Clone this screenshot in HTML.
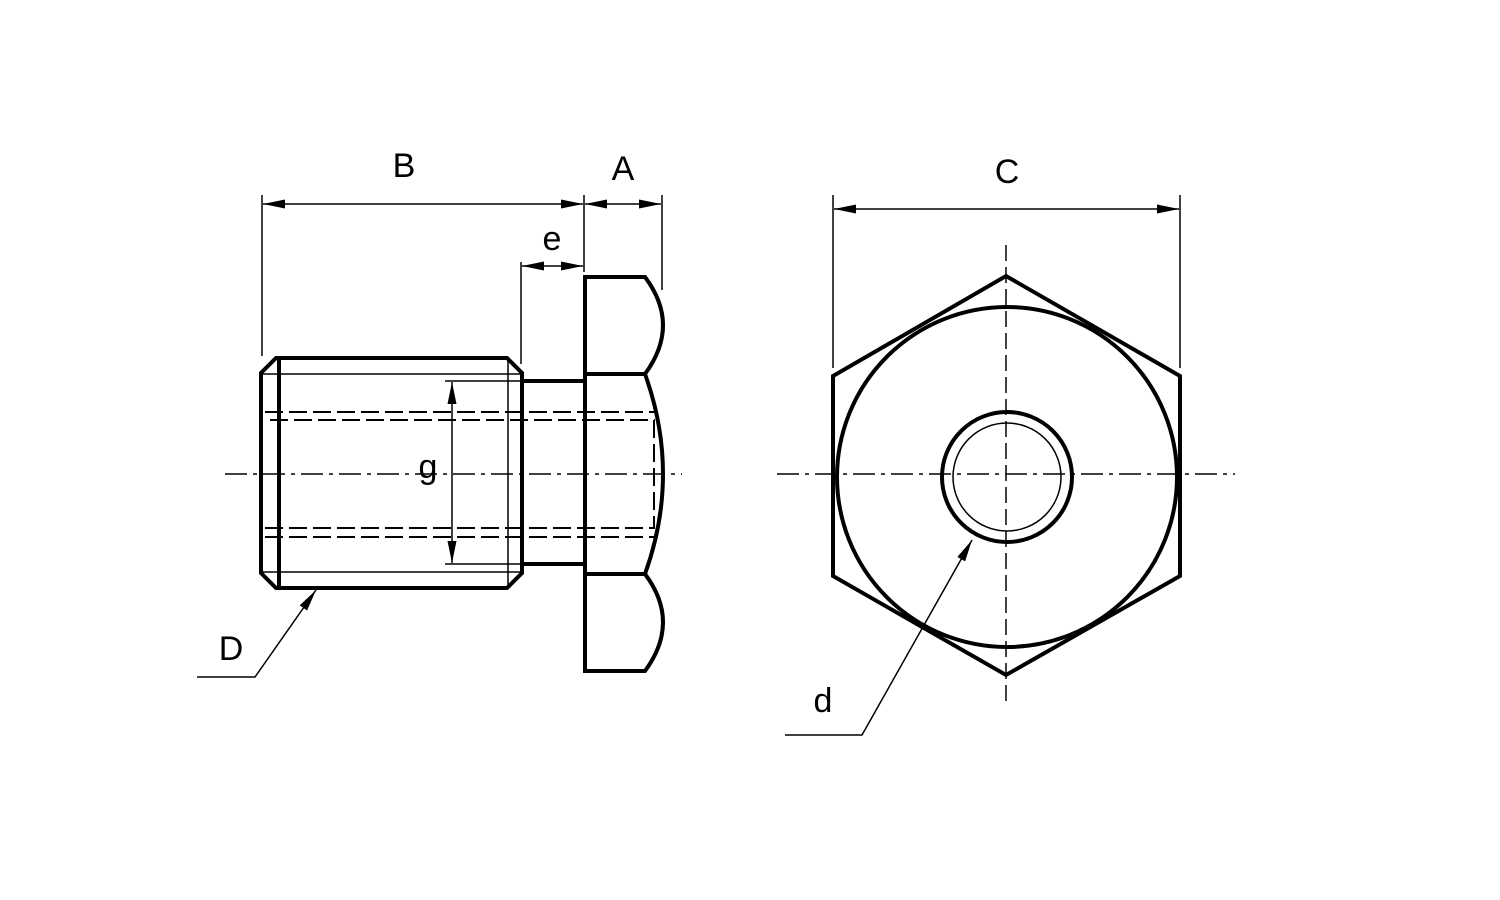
<!DOCTYPE html>
<html><head><style>body{margin:0;background:#fff}svg{display:block}</style></head><body>
<svg width="1500" height="900" viewBox="0 0 1500 900" xmlns="http://www.w3.org/2000/svg" font-family="Liberation Sans, sans-serif">
<defs>
<marker id="a" viewBox="0 0 10 10" refX="10" refY="5" markerWidth="22" markerHeight="9" orient="auto-start-reverse" markerUnits="userSpaceOnUse" preserveAspectRatio="none"><path d="M0,0L10,5L0,10z" fill="#000"/></marker>
<marker id="b" viewBox="0 0 10 10" refX="10" refY="5" markerWidth="22" markerHeight="9" orient="auto-start-reverse" markerUnits="userSpaceOnUse" preserveAspectRatio="none"><path d="M0,0L10,5L0,10z" fill="#000"/></marker>
</defs>
<g fill="none" stroke="#000">
<line x1="225" y1="474" x2="682" y2="474" stroke-width="1.5" stroke-dasharray="22,6,4,6"/>
<line x1="777" y1="474" x2="1235" y2="474" stroke-width="1.5" stroke-dasharray="22,6,4,6"/>
<line x1="1006" y1="245" x2="1006" y2="705" stroke-width="1.5" stroke-dasharray="16,6"/>
<path d="M276,358 L507,358 L522,373 L522,573 L507,588 L276,588 L261,573 L261,373 Z" stroke-width="4"/>
<line x1="279" y1="360" x2="279" y2="586" stroke-width="4"/>
<line x1="508" y1="360" x2="508" y2="586" stroke-width="1.5"/>
<line x1="263" y1="374" x2="520" y2="374" stroke-width="1.5"/>
<line x1="263" y1="572" x2="520" y2="572" stroke-width="1.5"/>
<line x1="522" y1="381" x2="585" y2="381" stroke-width="4"/>
<line x1="522" y1="564" x2="585" y2="564" stroke-width="4"/>
<path d="M585,277 L645,277 Q681,325 645,374 Q681,474 645,574 Q681,622 645,671 L585,671 Z" stroke-width="4"/>
<line x1="585" y1="374" x2="645" y2="374" stroke-width="4"/>
<line x1="585" y1="574" x2="645" y2="574" stroke-width="4"/>
<g stroke-width="2" stroke-dasharray="18,6">
<line x1="265" y1="412" x2="658" y2="412"/>
<line x1="270" y1="420" x2="655" y2="420"/>
<line x1="265" y1="528" x2="655" y2="528"/>
<line x1="265" y1="537" x2="658" y2="537"/>
<line x1="654" y1="420" x2="654" y2="528"/>
</g>
<line x1="445" y1="381" x2="522" y2="381" stroke-width="1.5"/>
<line x1="445" y1="564" x2="522" y2="564" stroke-width="1.5"/>
<line x1="452" y1="382" x2="452" y2="563" stroke-width="1.5" marker-start="url(#b)" marker-end="url(#b)"/>
<line x1="262" y1="195" x2="262" y2="356" stroke-width="1.5"/>
<line x1="584" y1="195" x2="584" y2="272" stroke-width="1.5"/>
<line x1="662" y1="195" x2="662" y2="290" stroke-width="1.5"/>
<line x1="521" y1="262" x2="521" y2="364" stroke-width="1.5"/>
<line x1="263" y1="204" x2="583" y2="204" stroke-width="1.5" marker-start="url(#a)" marker-end="url(#a)"/>
<line x1="585" y1="204" x2="661" y2="204" stroke-width="1.5" marker-start="url(#a)" marker-end="url(#a)"/>
<line x1="522" y1="266" x2="583" y2="266" stroke-width="1.5" marker-start="url(#a)" marker-end="url(#a)"/>
<polyline points="197,677 255,677 316,590" stroke-width="1.5" marker-end="url(#b)"/>
<polygon points="1006,276 1180,376 1180,576 1006,675 833,576 833,376" stroke-width="4"/>
<circle cx="1007" cy="477" r="170" stroke-width="4"/>
<circle cx="1007" cy="477" r="65" stroke-width="4"/>
<circle cx="1007" cy="477" r="54" stroke-width="1.5"/>
<line x1="833" y1="195" x2="833" y2="368" stroke-width="1.5"/>
<line x1="1180" y1="195" x2="1180" y2="368" stroke-width="1.5"/>
<line x1="834" y1="209" x2="1179" y2="209" stroke-width="1.5" marker-start="url(#a)" marker-end="url(#a)"/>
<polyline points="785,735 862,735 972,540" stroke-width="1.5" marker-end="url(#b)"/>
</g>
<g font-size="34" text-anchor="middle" fill="#000">
<text x="404" y="177">B</text>
<text x="623" y="180">A</text>
<text x="552" y="250">e</text>
<text x="428" y="478">g</text>
<text x="231" y="660">D</text>
<text x="1007" y="183">C</text>
<text x="823" y="712">d</text>
</g>
</svg>
</body></html>
